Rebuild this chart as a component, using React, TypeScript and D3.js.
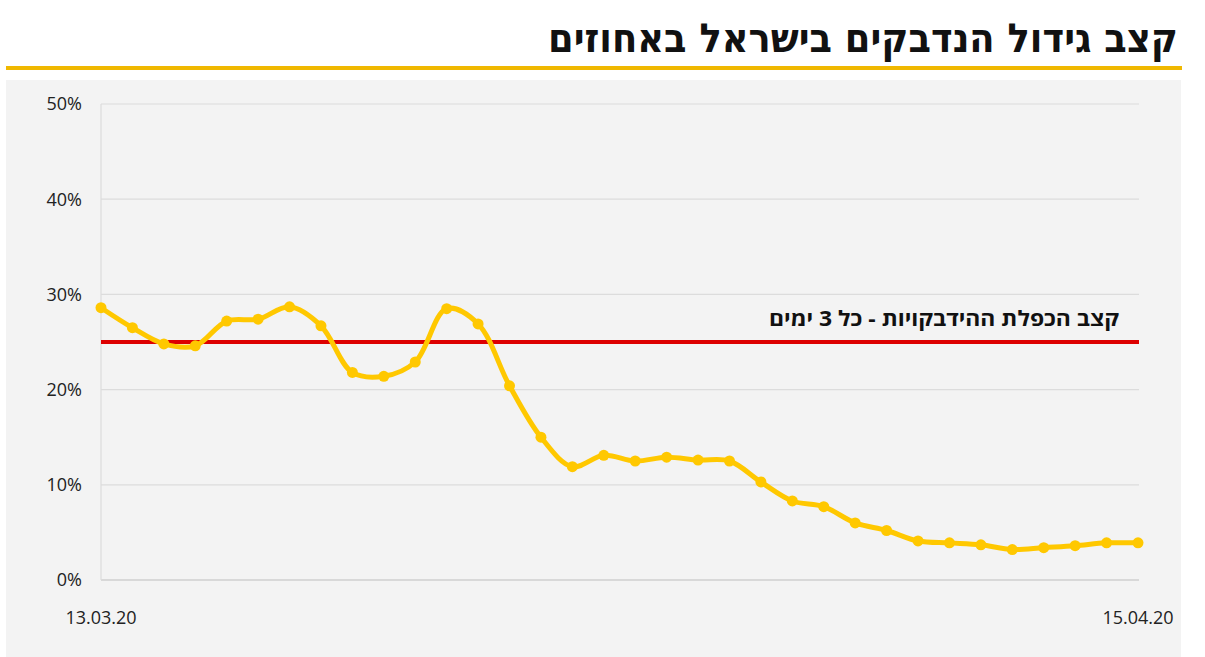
import React, { useEffect, useRef } from 'react';
import * as d3 from 'd3';

// daily growth rate (%) from 13.03.20 to 15.04.20
const dates = [
    '13.03', '14.03', '15.03', '16.03', '17.03', '18.03', '19.03', '20.03', '21.03', '22.03',
    '23.03', '24.03', '25.03', '26.03', '27.03', '28.03', '29.03', '30.03', '31.03', '01.04',
    '02.04', '03.04', '04.04', '05.04', '06.04', '07.04', '08.04', '09.04', '10.04', '11.04',
    '12.04', '13.04', '14.04', '15.04',
];
const growth = [
    28.6, 26.5, 24.8, 24.6, 27.2, 27.4, 28.7, 26.7, 21.8, 21.4,
    22.9, 28.5, 26.9, 20.4, 15.0, 11.9, 13.1, 12.5, 12.9, 12.6,
    12.5, 10.3, 8.3, 7.7, 6.0, 5.2, 4.1, 3.9, 3.7, 3.2,
    3.4, 3.6, 3.9, 3.9,
];
const yTicks = [0, 10, 20, 30, 40, 50];
const edgeLabels = ['13.03.20', '15.04.20'];
const doublingRate = 25;
const doublingLabel = 'קצב הכפלת ההידבקויות - כל 3 ימים';
const title = 'קצב גידול הנדבקים בישראל באחוזים';

const W = 1205;
const H = 657;
const margin = { top: 104, right: 67, bottom: 77, left: 101 };

export default function App() {
    const svgRef = useRef<SVGSVGElement>(null);

    useEffect(() => {
        const svg = d3.select(svgRef.current);
        svg.selectAll('*').remove();

        const x = d3.scalePoint<string>().domain(dates).range([margin.left, W - margin.right]);
        const y = d3.scaleLinear().domain([0, 50]).range([H - margin.bottom, margin.top]);

        // title + rule
        svg.append('text')
            .attr('x', 1178).attr('y', 52)
            .attr('text-anchor', 'end')
            .attr('font-family', '"DejaVu Sans Condensed", "DejaVu Sans", sans-serif')
            .attr('font-weight', 'bold')
            .attr('font-size', 40)
            .attr('textLength', 630)
            .attr('lengthAdjust', 'spacingAndGlyphs')
            .attr('fill', '#111')
            .text(title);
        svg.append('rect').attr('x', 6).attr('y', 66).attr('width', 1176).attr('height', 4).attr('fill', '#f0b800');

        // panel
        svg.append('rect').attr('x', 6).attr('y', 80).attr('width', 1175).attr('height', H - 80).attr('fill', '#f3f3f3');

        // grid
        const g = svg.append('g');
        g.selectAll('line.grid').data(yTicks).join('line')
            .attr('x1', margin.left).attr('x2', W - margin.right + 1)
            .attr('y1', d => y(d)).attr('y2', d => y(d))
            .attr('stroke', d => (d === 0 ? '#bdbdbd' : '#dcdcdc'))
            .attr('stroke-width', 1.2);
        g.append('line')
            .attr('x1', margin.left).attr('x2', margin.left)
            .attr('y1', y(50)).attr('y2', y(0))
            .attr('stroke', '#dcdcdc').attr('stroke-width', 1.2);

        g.selectAll('text.tick').data(yTicks).join('text')
            .attr('x', 82).attr('y', d => y(d))
            .attr('dy', '0.35em')
            .attr('text-anchor', 'end')
            .attr('font-family', '"Open Sans", sans-serif')
            .attr('font-size', 18)
            .attr('fill', '#222')
            .text(d => `${d}%`);

        g.selectAll('text.date').data(edgeLabels).join('text')
            .attr('x', (d, i) => x(dates[i === 0 ? 0 : dates.length - 1])!)
            .attr('y', 624)
            .attr('text-anchor', 'middle')
            .attr('font-family', '"Open Sans", sans-serif')
            .attr('font-size', 18)
            .attr('fill', '#222')
            .text(d => d);

        // doubling reference line
        g.append('line')
            .attr('x1', margin.left).attr('x2', W - margin.right + 1)
            .attr('y1', y(doublingRate)).attr('y2', y(doublingRate))
            .attr('stroke', '#dd0000').attr('stroke-width', 4);
        g.append('text')
            .attr('x', 1119).attr('y', 326)
            .attr('text-anchor', 'end')
            .attr('font-family', '"Open Sans", sans-serif')
            .attr('font-weight', 'bold')
            .attr('font-size', 21)
            .attr('textLength', 350)
            .attr('lengthAdjust', 'spacingAndGlyphs')
            .attr('fill', '#111')
            .text(doublingLabel);

        // growth line
        const line = d3.line<number>()
            .x((d, i) => x(dates[i])!)
            .y(d => y(d))
            .curve(d3.curveCatmullRom.alpha(0.5));
        g.append('path')
            .attr('d', line(growth))
            .attr('fill', 'none')
            .attr('stroke', '#ffc800')
            .attr('stroke-width', 5)
            .attr('stroke-linejoin', 'round');
        g.selectAll('circle').data(growth).join('circle')
            .attr('cx', (d, i) => x(dates[i])!)
            .attr('cy', d => y(d))
            .attr('r', 5.5)
            .attr('fill', '#ffc800');
    }, []);

    return (
        <svg ref={svgRef} width={W} height={H}
            style={{ position: 'absolute', left: 0, top: 0, background: '#fff' }} />
    );
}
